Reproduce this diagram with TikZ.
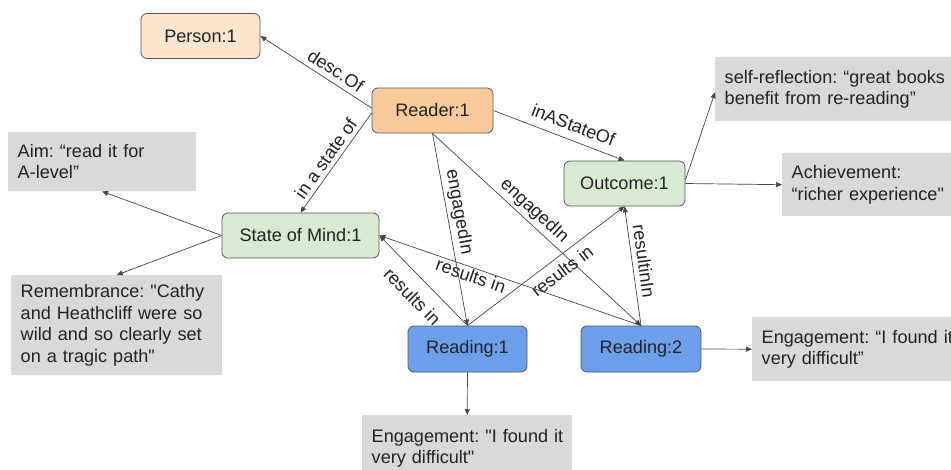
\documentclass[tikz,border=0pt]{standalone}
\usepackage{fontspec}
\newfontfamily\lsans{Liberation Sans}
\usetikzlibrary{arrows.meta}
\definecolor{cPerson}{HTML}{FCE5CD}
\definecolor{cReader}{HTML}{F9CB9C}
\definecolor{cGreen}{HTML}{D9EAD3}
\definecolor{cBlue}{HTML}{6D9EEB}
\definecolor{cNote}{HTML}{D9D9D9}
\definecolor{cLine}{HTML}{474747}
\definecolor{cEdge}{HTML}{595959}
\definecolor{cText}{HTML}{222222}

\begin{document}
\begin{tikzpicture}[x=1pt, y=-1pt,
     every node/.style={font=\lsans\fontsize{18.1}{21.5}\selectfont\frenchspacing, text=cText},
     entity/.style={draw=cEdge, line width=0.8pt, rounded corners=6pt, minimum height=45pt, inner sep=0pt},
     note/.style={fill=cNote, anchor=north west, align=left, inner xsep=9.5pt, inner ysep=0pt},
     arr/.style={-{Triangle[length=6pt,width=5pt]}, line width=0.7pt, draw=cLine},
     elbl/.style={sloped, inner sep=3pt}]
     \useasboundingbox[fill=white] (0,0) rectangle (951,469);
     \node[entity, fill=cPerson, minimum width=119pt] (person) at (200.5,36) {Person:1};
     \node[entity, fill=cReader, minimum width=121pt] (reader) at (432.5,110.5) {Reader:1};
     \node[entity, fill=cGreen, minimum width=121pt] (outcome) at (624.5,183.5) {Outcome:1};
     \node[entity, fill=cGreen, minimum width=157pt] (mind) at (300.5,235.5) {State of Mind:1};
     \node[entity, fill=cBlue, minimum width=119pt, minimum height=46pt] (read1) at (467.5,349) {Reading:1};
     \node[entity, fill=cBlue, minimum width=120pt, minimum height=46pt] (read2) at (641,349) {Reading:2};
     \node[note, text width=169pt, minimum height=59pt] (aim) at (8,132) {Aim: “read it for\\A-level”};
     \node[note, text width=192pt, minimum height=100pt] (remem) at (11,275) {Remembrance: "Cathy\\and Heathcliff were so\\wild and so clearly set\\on a tragic path"};
     \node[note, text width=241pt, minimum height=64pt] (reflect) at (715,57) {self-reflection: “great books\\benefit from re-reading”};
     \node[note, text width=161pt, minimum height=63pt] (achieve) at (782,153) {Achievement:\\“richer experience"};
     \node[note, text width=191pt, minimum height=64pt] (engR) at (752,317) {Engagement:~“I~found~it\\very difficult”};
     \node[note, text width=191pt, minimum height=66pt] (engB) at (362,415) {Engagement:~"I~found~it\\very difficult"};
     \draw[arr] ([yshift=2.5pt]reader.west) -- node[elbl, above=2pt, pos=0.38] {desc.Of} (person.east);
     \draw[arr] ([yshift=-2.5pt]reader.west) -- node[elbl, above=1pt, pos=0.52] {in a state of} (mind.north);
     \draw[arr] (reader.east) -- node[elbl, above=5pt, pos=0.57] {inAStateOf} (outcome.north);
     \draw[arr] (reader.south) -- node[elbl, above=0pt, pos=0.42] {engagedIn} (read1.north);
     \draw[arr] (reader.south) -- node[elbl, above=0pt, pos=0.45] {engagedIn} (read2.north);
     \draw[arr] (read1.north) -- node[elbl, below=3.5pt, pos=0.55] {results in} (outcome.south);
     \draw[arr] (read1.north) -- node[elbl, below=9pt, pos=0.47] {results in} (mind.east);
     \draw[arr] (read2.north) -- node[elbl, below=-2pt, pos=0.64] {results in} (mind.east);
     \draw[arr] (read2.north) -- node[elbl, above=2pt, pos=0.53] {resultinIn} (outcome.south);
     \draw[arr] ([yshift=3.5pt]outcome.east) -- ([yshift=-3pt]reflect.west);
     \draw[arr] (outcome.east) -- (achieve.west);
     \draw[arr] (mind.west) -- (aim.south);
     \draw[arr] (mind.west) -- (remem.north);
     \draw[arr] (read1.south) -- (engB.north);
     \draw[arr] (read2.east) -- (engR.west);
  \end{tikzpicture}
\end{document}
